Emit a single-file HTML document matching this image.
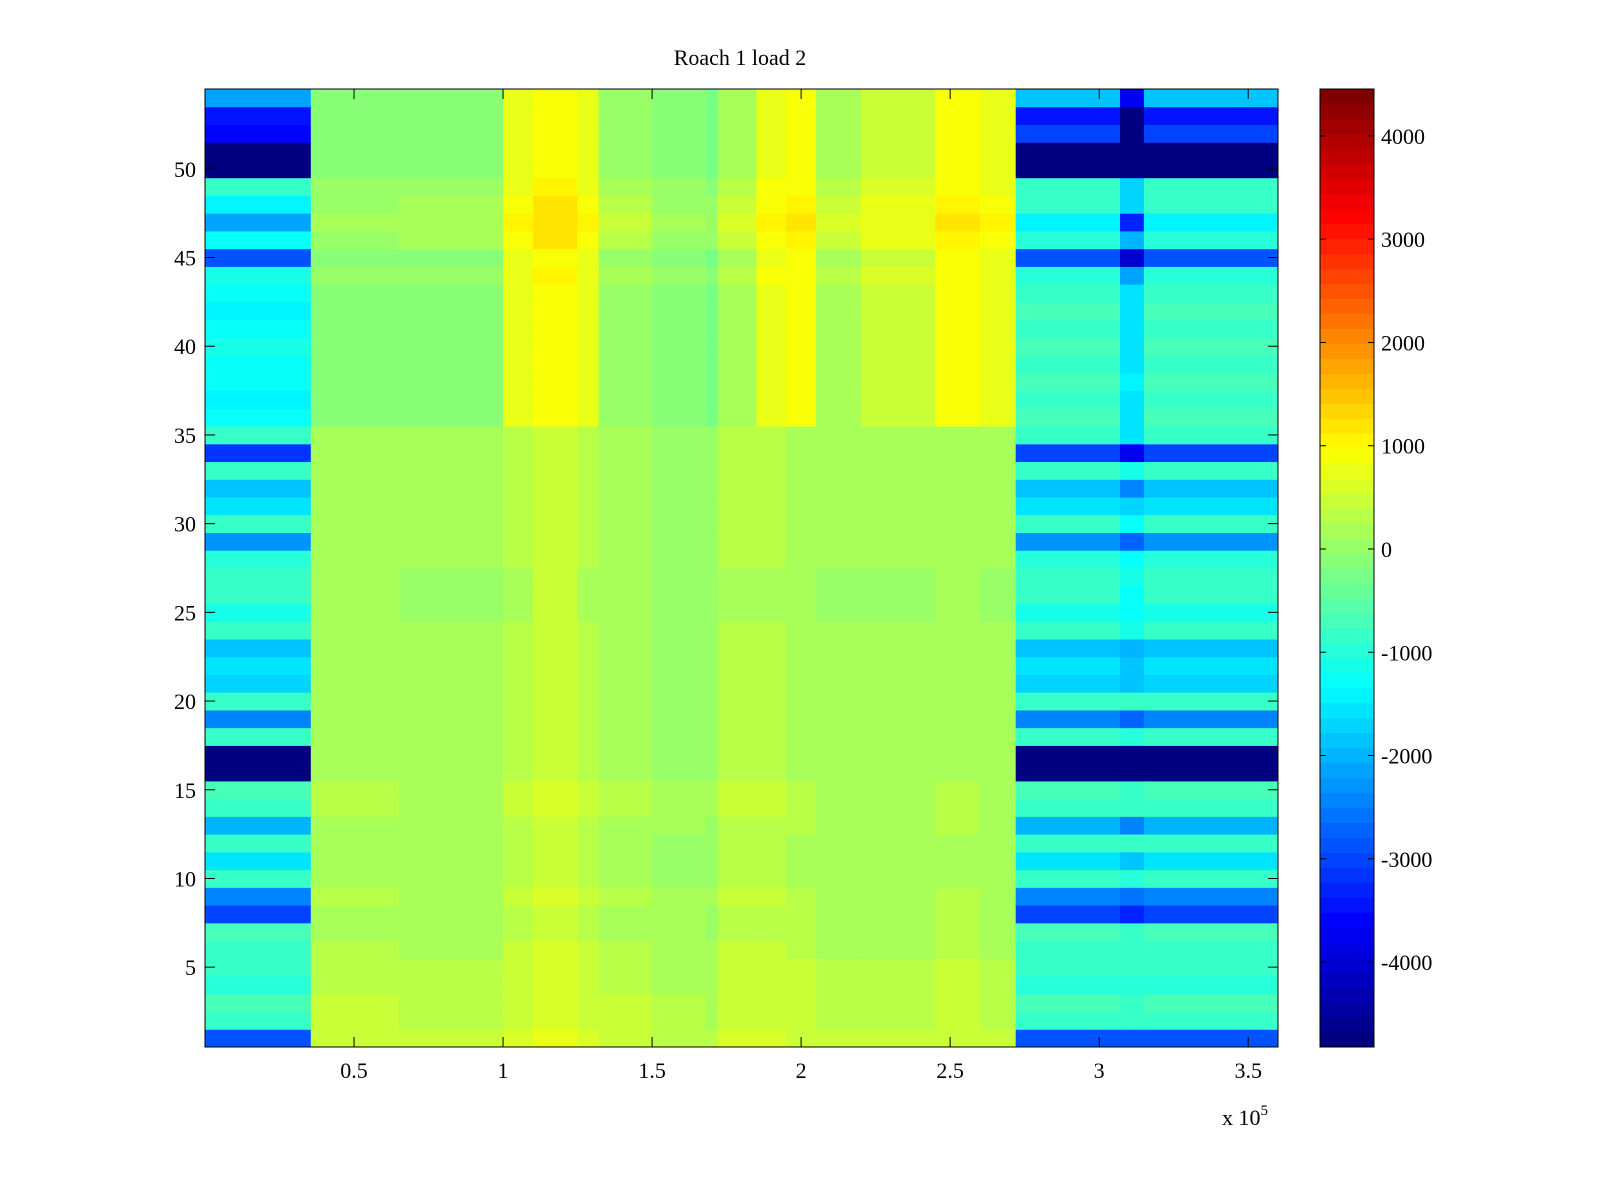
<!DOCTYPE html>
<html><head><meta charset="utf-8"><style>
body{margin:0;background:#fff;}
svg{display:block;font-family:"Liberation Serif",serif;}
</style></head><body>
<svg id="chart" width="1600" height="1200" viewBox="0 0 1600 1200" xmlns="http://www.w3.org/2000/svg">
<rect width="1600" height="1200" fill="#fff"/>
<text x="740" y="65" font-size="22" text-anchor="middle">Roach 1 load 2</text>
<g id="cells"></g>
<g id="cbar"></g>
<g id="axes"></g>
</svg>
<script>
// ---- data (row index 0 = row 1) ----
const leftRow = [-2800,-900,-700,-1000,-800,-900,-700,-3000,-2400,-900,-1500,-800,-2000,-800,-700,-4800,-4800,-900,-2500,-800,-1700,-1600,-1800,-900,-1100,-900,-800,-1000,-2300,-900,-1500,-1900,-800,-3200,-900,-1300,-1400,-1200,-1300,-1100,-1300,-1400,-1200,-1100,-2900,-1300,-2200,-1400,-900,-4800,-4800,-3600,-3400,-2100];
const rightRow = [-2800,-900,-700,-1000,-800,-900,-700,-3000,-2400,-900,-1500,-800,-2000,-800,-700,-4800,-4800,-900,-2500,-800,-1700,-1600,-1800,-900,-1100,-900,-800,-1000,-2300,-900,-1500,-1900,-800,-3000,-800,-700,-800,-700,-800,-700,-800,-700,-800,-1000,-2800,-1000,-1400,-800,-800,-4800,-4800,-3000,-3500,-1800];
const stripeRow = [-2800,-900,-800,-1000,-900,-900,-800,-3300,-2600,-1000,-1800,-900,-2500,-900,-900,-4800,-4800,-1000,-2700,-900,-1900,-1800,-2000,-1100,-1300,-1200,-1100,-1300,-2700,-1200,-1700,-2400,-1100,-3700,-1500,-1500,-1500,-1400,-1600,-1500,-1500,-1600,-1500,-2200,-4000,-2000,-3300,-1700,-1700,-4800,-4800,-4800,-4800,-3800];
const midRow = [250,200,200,150,150,100,50,50,100,0,0,0,50,100,100,0,0,0,0,0,0,0,0,0,-50,-50,-50,0,0,0,0,0,0,0,0,0,0,0,0,0,0,0,0,100,0,200,300,200,100,0,0,0,0,0];
const midEdges = [0.355,0.65,1.0,1.1,1.25,1.32,1.5,1.68,1.72,1.85,1.95,2.05,2.2,2.45,2.6,2.72];
const midTop = [-100,-50,700,950,700,100,-100,-200,250,750,850,250,500,850,700];
const midBottom = [200,150,300,450,300,200,100,50,300,300,250,150,150,250,150];
const leftEdges = [0,0.355];
const rightEdges = [2.72,3.07,3.15,3.6];
const yTicks = [5,10,15,20,25,30,35,40,45,50];
const xTicks = [0.5,1,1.5,2,2.5,3,3.5];
const cTicks = [4000,3000,2000,1000,0,-1000,-2000,-3000,-4000];
const cmin = -4823, cmax = 4455;

// ---- axis functions ----
const X0=205,X1=1278,Y0=89,Y1=1047;
const xs = v => X0 + (v/3.6)*(X1-X0);
const ys = r => Y1 - ((r-0.5)/54)*(Y1-Y0);
function jet(v){
  let t=(v-cmin)/(cmax-cmin); t=Math.max(0,Math.min(1,t));
  t=Math.min(63,Math.floor(t*64))/63;
  const c=x=>Math.round(255*Math.max(0,Math.min(1,x)));
  return `rgb(${c(1.5-Math.abs(4*t-3))},${c(1.5-Math.abs(4*t-2))},${c(1.5-Math.abs(4*t-1))})`;
}
const NS="http://www.w3.org/2000/svg";
function mk(tag,attrs,parent){const e=document.createElementNS(NS,tag);for(const k in attrs)e.setAttribute(k,attrs[k]);parent.appendChild(e);return e;}
const cells=document.getElementById('cells');
function cell(xa,xb,r,v){
  const e=mk('rect',{x:xs(xa),y:ys(r+0.5),width:xs(xb)-xs(xa)+0.5,height:ys(r-0.5)-ys(r+0.5)+0.5,fill:jet(v)},cells);
  
  
}
for(let i=0;i<54;i++){
  const r=i+1;
  cell(leftEdges[0],leftEdges[1],r,leftRow[i]);
  for(let c=0;c<midTop.length;c++){
    const base = r>=36 ? midTop[c] : midBottom[c];
    cell(midEdges[c],midEdges[c+1],r,base+midRow[i]);
  }
  cell(rightEdges[0],rightEdges[1],r,rightRow[i]);
  cell(rightEdges[1],rightEdges[2],r,stripeRow[i]);
  cell(rightEdges[2],rightEdges[3],r,rightRow[i]);
}
// colorbar
const cb=document.getElementById('cbar');
const CX0=1320,CX1=1374;
const cy = v => Y1 - (v-cmin)/(cmax-cmin)*(Y1-Y0);
for(let k=0;k<64;k++){
  const va=cmin+k*(cmax-cmin)/64, vb=cmin+(k+1)*(cmax-cmin)/64;
  const e=mk('rect',{x:CX0,y:cy(vb),width:CX1-CX0,height:cy(va)-cy(vb)+0.5,fill:jet((va+vb)/2)},cb);
  
  
}
mk('rect',{x:CX0,y:Y0,width:CX1-CX0,height:Y1-Y0,fill:'none',stroke:'#000','stroke-width':1},cb);
cTicks.forEach(v=>{
  const y=cy(v);
  mk('line',{x1:CX0,x2:CX0+6,y1:y,y2:y,stroke:'#000'},cb);
  mk('line',{x1:CX1-6,x2:CX1,y1:y,y2:y,stroke:'#000'},cb);
  const t=mk('text',{x:CX1+7,y:y+8,'font-size':22},cb);
  t.textContent=String(v);
  
  
});
// axes
const ax=document.getElementById('axes');
mk('rect',{x:X0,y:Y0,width:X1-X0,height:Y1-Y0,fill:'none',stroke:'#000','stroke-width':1},ax);
yTicks.forEach(v=>{
  const y=ys(v);
  mk('line',{x1:X0,x2:X0+10,y1:y,y2:y,stroke:'#000'},ax);
  mk('line',{x1:X1-10,x2:X1,y1:y,y2:y,stroke:'#000'},ax);
  const t=mk('text',{x:196,y:y+8,'font-size':22,'text-anchor':'end'},ax);
  t.textContent=String(v);
  
  
});
xTicks.forEach(v=>{
  const x=xs(v);
  mk('line',{x1:x,x2:x,y1:Y1-10,y2:Y1,stroke:'#000'},ax);
  mk('line',{x1:x,x2:x,y1:Y0,y2:Y0+10,stroke:'#000'},ax);
  const t=mk('text',{x:x,y:1078,'font-size':22,'text-anchor':'middle'},ax);
  t.textContent=String(v);
  
  
});
const ex=mk('text',{x:1222,y:1125,'font-size':22},ax);
ex.innerHTML='x 10<tspan dy="-10" font-size="15">5</tspan>';


</script>
</body></html>
